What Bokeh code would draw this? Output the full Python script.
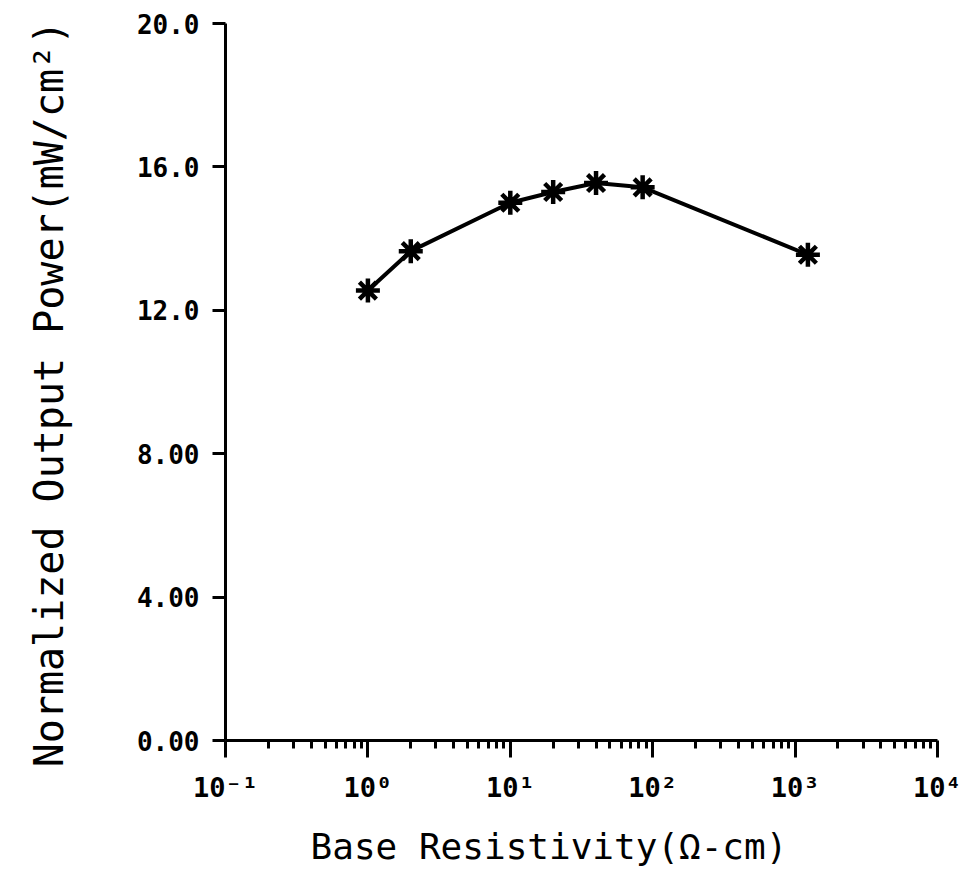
from bokeh.plotting import figure
from bokeh.models import FixedTicker, Range1d
from bokeh.embed import file_html
from bokeh.resources import INLINE

# Data
resistivity = [1.0, 2.0, 10.0, 20.0, 40.0, 85.0, 1230.0]
power = [12.55, 13.65, 15.0, 15.3, 15.55, 15.43, 13.55]

x_major = [0.1, 1, 10, 100, 1000, 10000]
x_labels = ["10⁻¹", "10⁰", "10¹", "10²", "10³", "10⁴"]
y_major = [0, 4, 8, 12, 16, 20]
y_labels = ["0.00", "4.00", "8.00", "12.0", "16.0", "20.0"]

x_minor = [d * k for d in [0.1, 1, 10, 100, 1000] for k in range(2, 10)]

W, H = 976, 874
p = figure(width=W, height=H, x_axis_type="log",
           x_range=Range1d(0.1, 10000), y_range=Range1d(0, 20),
           output_backend="svg", toolbar_location=None,
           min_border_left=225, min_border_right=39,
           min_border_top=23, min_border_bottom=134)
p.outline_line_color = None
p.grid.visible = False
p.background_fill_color = "white"
p.border_fill_color = "white"

p.line(resistivity, power, line_color="black", line_width=4)
p.scatter(resistivity, power, marker="asterisk", size=24,
          line_color="black", line_width=4.5)

xa = p.xaxis[0]
xa.ticker = FixedTicker(ticks=x_major, minor_ticks=x_minor)
xa.major_label_overrides = {t: l for t, l in zip(x_major, x_labels)}
xa.axis_line_width = 3
xa.major_tick_line_width = 3
xa.minor_tick_line_width = 3
xa.major_tick_out = 17
xa.major_tick_in = 0
xa.minor_tick_out = 8
xa.minor_tick_in = 0
xa.major_label_text_font = "DejaVu Sans Mono"
xa.major_label_text_font_style = "bold"
xa.major_label_text_font_size = "27px"
xa.major_label_text_color = "black"
xa.major_label_standoff = 14
xa.axis_label = "Base Resistivity(Ω-cm)\u00a0\u00a0\u00a0"
xa.axis_label_text_font = "DejaVu Sans Mono"
xa.axis_label_text_font_style = "normal"
xa.axis_label_text_font_size = "36px"
xa.axis_label_text_color = "black"
xa.axis_label_standoff = 20

ya = p.yaxis[0]
ya.ticker = FixedTicker(ticks=y_major, minor_ticks=[])
ya.major_label_overrides = {t: l for t, l in zip(y_major, y_labels)}
ya.axis_line_width = 3
ya.major_tick_line_width = 3
ya.major_tick_out = 13
ya.major_tick_in = 0
ya.minor_tick_out = 0
ya.major_label_text_font = "DejaVu Sans Mono"
ya.major_label_text_font_style = "bold"
ya.major_label_text_font_size = "26px"
ya.major_label_text_color = "black"
ya.major_label_standoff = 13
ya.axis_label = "Normalized Output  Power(mW/cm²)"
ya.axis_label_text_font = "DejaVu Sans Mono"
ya.axis_label_text_font_style = "normal"
ya.axis_label_text_font_size = "40px"
ya.axis_label_text_color = "black"
ya.axis_label_standoff = 62

open("out.html", "w").write(file_html(p, INLINE))
